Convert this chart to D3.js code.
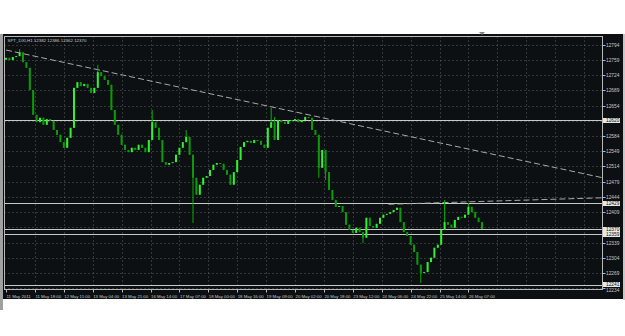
<!DOCTYPE html>
<html><head><meta charset="utf-8">
<script src="https://cdn.jsdelivr.net/npm/d3@7"></script>
<style>
html,body{margin:0;padding:0;background:#ffffff;}
svg{display:block;}
text{font-family:"Liberation Sans",Arial,sans-serif;}
</style></head>
<body>
<svg id="c" width="625" height="336"></svg>
<script>
// ---------- data ----------
const title = "SPT_DXI,H1  12382 12386 12362 12370";
const firstOpen = 12760;
// closes of 2-hour bars (hour index = 2*i)
const closes = [12764,12759,12766,12768,12777,12754,12741,12690,12633,12616,
12626,12610,12623,12619,12598,12587,12570,12557,12580,12603,
12695,12708,12699,12704,12695,12683,12695,12731,12722,12713,
12702,12644,12610,12587,12564,12552,12547,12557,12552,12564,
12557,12547,12575,12616,12603,12575,12524,12518,12522,12524,
12541,12557,12570,12582,12541,12488,12449,12472,12488,12492,
12506,12518,12522,12520,12506,12495,12472,12501,12529,12559,
12570,12573,12568,12575,12573,12564,12557,12603,12616,12575,
12621,12616,12612,12621,12619,12623,12616,12621,12628,12626,
12598,12587,12511,12552,12501,12460,12437,12421,12423,12409,
12380,12368,12361,12373,12363,12350,12396,12377,12373,12382,
12396,12403,12405,12409,12414,12419,12386,12363,12354,12334,
12317,12288,12269,12271,12294,12304,12327,12334,12368,12386,
12380,12373,12391,12398,12396,12403,12421,12409,12396,12386,12370];
// notable wicks: [bar index, high, low]
const spikes = [[4,12784,null],[27,12748,null],[43,12644,null],[53,12598,null],
[55,null,12384],[78,12649,null],[79,12628,null],[92,null,12488],[94,null,12483],
[105,null,12338],[122,null,12246],[129,12437,null],[136,12430,null]];
const timeLabels = ["11 May 2011","11 May 18:00","12 May 11:00","13 May 04:00","13 May 21:00",
"16 May 14:00","17 May 07:00","18 May 00:00","18 May 16:00","19 May 09:00","20 May 02:00",
"20 May 18:00","23 May 12:00","24 May 06:00","24 May 22:00","25 May 14:00","26 May 07:00"];
const priceTicks = [12794,12759,12724,12689,12654,12619,12584,12549,12514,12479,12444,12409,12374,12339,12304,12269,12234];
const hLines = [12620,12429,12370,12359,12241];
const trendA = [[0,12782],[351,12488]];
const trendB = [[225,12427],[351,12442]];

// ---------- layout ----------
const svg = d3.select("#c");
const L=4.5, R=602.5, T=36.5, B=289.5;
const x = d3.scaleLinear().domain([0,340]).range([6, 6+1.7*340]);
const y = d3.scaleLinear().domain([12232,12812]).range([289,37]);

// panel
svg.append("rect").attr("x",0).attr("y",34).attr("width",3).attr("height",276).attr("fill","#a0a0a0");
svg.append("rect").attr("x",3).attr("y",34).attr("width",620).attr("height",265).attr("fill","#0c1012");
svg.append("rect").attr("x",623).attr("y",34).attr("width",2).attr("height",266).attr("fill","#c8c8c8");
// shift marker
svg.append("path").attr("d","M479,32 L485,32 L482,35 Z").attr("fill","#808080");

// grid
const gridH = svg.append("g");
priceTicks.forEach(v=>{
  gridH.append("line").attr("x1",L).attr("x2",R).attr("y1",Math.round(y(v))+0.5).attr("y2",Math.round(y(v))+0.5)
   .attr("stroke","#5a5e60").attr("stroke-width",1).attr("stroke-dasharray","1,3");
});
for(let k=1;k<=20;k++){
  const gx = Math.round(x(17*k))+0.5;
  if(gx>=R) break;
  gridH.append("line").attr("x1",gx).attr("x2",gx).attr("y1",T).attr("y2",B)
   .attr("stroke","#5a5e60").attr("stroke-width",1).attr("stroke-dasharray","1,3");
}

// horizontal level lines
hLines.forEach(v=>{
  svg.append("line").attr("x1",L).attr("x2",R).attr("y1",Math.round(y(v))+0.5).attr("y2",Math.round(y(v))+0.5)
   .attr("stroke","#c8c8c8").attr("stroke-width",1);
});
// trend lines
[trendA,trendB].forEach(t=>{
  svg.append("line").attr("x1",x(t[0][0])).attr("y1",y(t[0][1])).attr("x2",x(t[1][0])).attr("y2",y(t[1][1]))
   .attr("stroke","#a8a8a8").attr("stroke-width",1).attr("stroke-dasharray","6,3");
});

// candles
const bars = closes.map((c,i)=>{
  const o = i===0?firstOpen:closes[i-1];
  let h=Math.max(o,c), l=Math.min(o,c);
  spikes.forEach(s=>{ if(s[0]===i){ if(s[1]!=null) h=Math.max(h,s[1]); if(s[2]!=null) l=Math.min(l,s[2]); }});
  return {i,o,c,h,l};
});
const g = svg.append("g");
g.selectAll("line.w").data(bars).join("line").attr("class","w")
 .attr("x1",d=>x(2*d.i)).attr("x2",d=>x(2*d.i)).attr("y1",d=>y(d.h)).attr("y2",d=>y(d.l))
 .attr("stroke","#00b000").attr("stroke-width",1);
g.selectAll("rect.b").data(bars).join("rect").attr("class","b")
 .attr("x",d=>x(2*d.i)-1).attr("width",2)
 .attr("y",d=>y(Math.max(d.o,d.c))).attr("height",d=>Math.max(1,y(Math.min(d.o,d.c))-y(Math.max(d.o,d.c))))
 .attr("fill",d=>d.c>=d.o?"#33f033":"#0a9a0a");

// frame
svg.append("rect").attr("x",L).attr("y",T).attr("width",R-L).attr("height",B-T)
 .attr("fill","none").attr("stroke","#b8b8b8").attr("stroke-width",1);

// title
svg.append("text").attr("x",7.5).attr("y",41.5).attr("font-size",4.4).attr("fill","#c8c8c8").text(title);

// price axis
priceTicks.forEach(v=>{
  const py = Math.round(y(v))+0.5;
  svg.append("line").attr("x1",R).attr("x2",R+3).attr("y1",py).attr("y2",py).attr("stroke","#b8b8b8");
  const covered = hLines.some(h=>Math.abs(y(h)-y(v))<4 && v!==12234);
  if(!covered){
    const ty = v===12234 ? py+3.3 : py+1.8;
    svg.append("text").attr("x",606).attr("y",ty).attr("font-size",4.8).attr("fill","#c8c8c8").text(v);
  }
});
hLines.forEach(v=>{
  const py = Math.round(y(v))+0.5;
  const yy = v===12241 ? py-1 : py;
  svg.append("rect").attr("x",R+0.5).attr("y",yy-2.5).attr("width",17).attr("height",5).attr("fill","#e8e8e8");
  svg.append("text").attr("x",606).attr("y",yy+1.7).attr("font-size",4.8).attr("fill","#101010").text(v);
});

// time axis
timeLabels.forEach((t,k)=>{
  const tx = x(17*k);
  svg.append("line").attr("x1",Math.round(tx)+0.5).attr("x2",Math.round(tx)+0.5).attr("y1",B).attr("y2",B+3).attr("stroke","#b8b8b8");
  svg.append("text").attr("x",tx+0.5).attr("y",297.5).attr("font-size",4.3).attr("fill","#c8c8c8").text(t);
});
</script>
</body></html>
